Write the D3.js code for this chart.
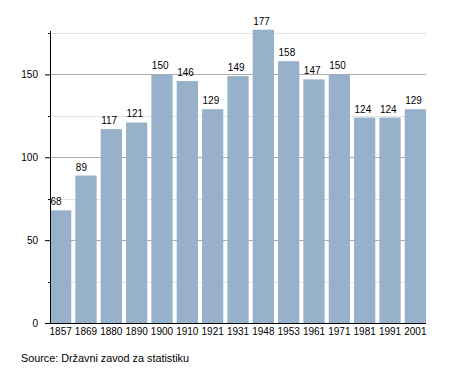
<!DOCTYPE html>
<html>
<head>
<meta charset="utf-8">
<script src="https://cdn.jsdelivr.net/npm/d3@7"></script>
<style>
  body { margin: 0; background: #fff; }
  text { font-family: "Liberation Sans", Arial, sans-serif; }
</style>
</head>
<body>
<div id="chart"></div>
<script>
// population by census year
var years = ["1857", "1869", "1880", "1890", "1900", "1910", "1921", "1931", "1948", "1953", "1961", "1971", "1981", "1991", "2001"];
var values = [68, 89, 117, 121, 150, 146, 129, 149, 177, 158, 147, 150, 124, 124, 129];
var majorTicks = [0, 50, 100, 150];
var minorTicks = [25, 75, 125, 175];

var margin = { top: 33, right: 29, bottom: 50, left: 50 },
    width = 455 - margin.left - margin.right,
    height = 373 - margin.top - margin.bottom;

var svg = d3.select("#chart")
    .append("svg")
    .attr("width", 455)
    .attr("height", 373)
    .append("g").attr("transform", "translate(" + margin.left + "," + margin.top + ")");

var x = d3.scaleBand()
    .domain(years)
    .range([0, width])
    .paddingInner(0.16)
    .paddingOuter(0);

var y = d3.scaleLinear()
    .domain([0, 175])
    .range([height, 0]);

// light gridlines
svg.append("g").selectAll("line")
    .data(minorTicks)
    .enter().append("line")
    .attr("x1", 0).attr("x2", width)
    .attr("y1", function (d) { return Math.round(y(d)) + 0.5; })
    .attr("y2", function (d) { return Math.round(y(d)) + 0.5; })
    .style("stroke", "#e3e3e3");

svg.append("g").selectAll("line")
    .data(majorTicks.slice(1))
    .enter().append("line")
    .attr("x1", 0).attr("x2", width)
    .attr("y1", function (d) { return Math.round(y(d)) + 0.5; })
    .attr("y2", function (d) { return Math.round(y(d)) + 0.5; })
    .style("stroke", "#ababab");

svg.append("g").selectAll("rect")
    .data(values)
    .enter().append("rect")
    .attr("x", function (d, i) { return x(years[i]); })
    .attr("y", function (d) { return y(d); })
    .attr("width", x.bandwidth())
    .attr("height", function (d) { return height - y(d); })
    .style("fill", "#98b1ca");

svg.append("g").selectAll("text")
    .data(values)
    .enter().append("text")
    .attr("x", function (d, i) { return x(years[i]) + 0.5; })
    .attr("y", function (d) { return y(d) - 5; })
    .attr("font-size", "10px")
    .style("text-anchor", "start")
    .style("fill", "#000")
    .text(function (d) { return d; });

// y axis
var yAxis = svg.append("g")
    .call(d3.axisLeft(y).tickValues(majorTicks).tickSize(5).tickPadding(7));
yAxis.select(".domain").remove();
yAxis.selectAll("text").attr("font-size", "10px").style("font-family", "Liberation Sans, Arial, sans-serif");

svg.append("g").selectAll("line")
    .data(minorTicks)
    .enter().append("line")
    .attr("x1", -2).attr("x2", 0)
    .attr("y1", function (d) { return Math.round(y(d)) + 0.5; })
    .attr("y2", function (d) { return Math.round(y(d)) + 0.5; })
    .style("stroke", "#000");

svg.append("line")
    .attr("x1", 0.5).attr("x2", 0.5)
    .attr("y1", y(175) - 2).attr("y2", height)
    .style("stroke", "#000");

// x axis
svg.append("line")
    .attr("x1", 0).attr("x2", width)
    .attr("y1", height + 0.5).attr("y2", height + 0.5)
    .style("stroke", "#000");

svg.append("g").selectAll("text")
    .data(years)
    .enter().append("text")
    .attr("x", function (d) { return x(d) + x.bandwidth() / 2; })
    .attr("y", height + 12)
    .attr("font-size", "10px")
    .style("text-anchor", "middle")
    .text(function (d) { return d; });

d3.select("svg").append("text")
    .attr("x", 21)
    .attr("y", 362)
    .attr("font-size", "10.8px")
    .text("Source: Državni zavod za statistiku");
</script>
</body>
</html>
